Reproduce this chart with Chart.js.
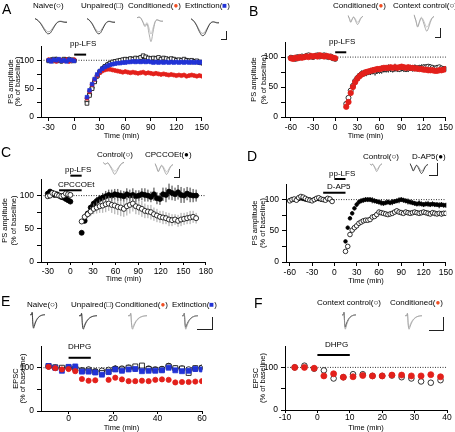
<!DOCTYPE html>
<html lang="en">
<head>
<meta charset="utf-8">
<script src="https://cdn.jsdelivr.net/npm/chart.js"></script>
<style>
  body { margin: 0; background: #fff; font-family: Arial, 'Liberation Sans', sans-serif; }
  #fig { position: relative; width: 455px; height: 432px; overflow: hidden; }
  #fig canvas { position: absolute; }
  .pn { position: absolute; font-size: 14px; line-height: 1; color: #000; will-change: transform; }
  .lbl { position: absolute; font-size: 8px; line-height: 1; white-space: nowrap; color: #000; will-change: transform; }
  .sb { position: absolute; border-right: 1px solid #222; border-bottom: 1px solid #222; }
  .red { color: #f04e23; }
  .blue { color: #2233d6; }
</style>
</head>
<body>
<div id="fig">
  <!-- panel letters -->
  <div class="pn" style="left:2px;top:2px">A</div>
  <div class="pn" style="left:249px;top:4px">B</div>
  <div class="pn" style="left:1px;top:145px">C</div>
  <div class="pn" style="left:247px;top:149px">D</div>
  <div class="pn" style="left:1px;top:294px">E</div>
  <div class="pn" style="left:254px;top:296px">F</div>

  <!-- A -->
  <div class="lbl" style="left:33px;top:2px">Naive(○)</div>
  <div class="lbl" style="left:81px;top:2px">Unpaired(□)</div>
  <div class="lbl" style="left:128px;top:2px">Conditioned(<span class="red">●</span>)</div>
  <div class="lbl" style="left:185px;top:2px">Extinction(<span class="blue">■</span>)</div>
  <div class="lbl" style="left:70px;top:40px">pp-LFS</div>
  <div class="sb" style="left:221px;top:31px;width:5px;height:8px"></div>

  <!-- B -->
  <div class="lbl" style="left:333px;top:2px">Conditioned(<span class="red">●</span>)</div>
  <div class="lbl" style="left:393px;top:2px">Context control(○)</div>
  <div class="lbl" style="left:329px;top:38px">pp-LFS</div>
  <div class="sb" style="left:435px;top:28px;width:5px;height:9px"></div>

  <!-- C -->
  <div class="lbl" style="left:97px;top:151px">Control(○)</div>
  <div class="lbl" style="left:145px;top:151px">CPCCOEt(●)</div>
  <div class="lbl" style="left:65px;top:166px">pp-LFS</div>
  <div class="lbl" style="left:58px;top:181px">CPCCOEt</div>
  <div class="sb" style="left:174px;top:169px;width:5px;height:8px"></div>

  <!-- D -->
  <div class="lbl" style="left:363px;top:153px">Control(○)</div>
  <div class="lbl" style="left:412px;top:153px">D-AP5(●)</div>
  <div class="lbl" style="left:329px;top:170px">pp-LFS</div>
  <div class="lbl" style="left:327px;top:183px">D-AP5</div>
  <div class="sb" style="left:429px;top:163px;width:8px;height:12px"></div>

  <!-- E -->
  <div class="lbl" style="left:27px;top:301px">Naive(○)</div>
  <div class="lbl" style="left:71px;top:301px">Unpaired(□)</div>
  <div class="lbl" style="left:115px;top:301px">Conditioned(<span class="red">●</span>)</div>
  <div class="lbl" style="left:172px;top:301px">Extinction(<span class="blue">■</span>)</div>
  <div class="lbl" style="left:68px;top:343px">DHPG</div>
  <div class="sb" style="left:197px;top:317px;width:15px;height:12px"></div>

  <!-- F -->
  <div class="lbl" style="left:317px;top:299px">Context control(○)</div>
  <div class="lbl" style="left:390px;top:299px">Conditioned(<span class="red">●</span>)</div>
  <div class="lbl" style="left:325px;top:341px">DHPG</div>
  <div class="sb" style="left:429px;top:317px;width:14px;height:13px"></div>
</div>

<script>
  // ---- A: PS amplitude, pp-LFS ----
  var tA = [-30,-27,-24,-21,-18,-15,-12,-9,-6,-3,0,15,18,21,24,27,30,33,36,39,42,45,48,51,54,57,60,63,66,69,72,75,78,81,84,87,90,93,96,99,102,105,108,111,114,117,120,123,126,129,132,135,138,141,144,147,150];
  var naiveA = [100,101,99,102,100,98,101,100,102,99,100, 28,40,52,63,72,80,85,89,92,94, 96,97,98,99,100,101,100,102,101,103, 102,104,106,104,102,101,103,102,101,100, 102,101,100,99,101,100,99,98,100,99, 98,97,98,97,96,95];
  var unpairedA = [99,100,102,101,99,100,102,101,100,101,99, 24,38,50,62,72,79,85,89,92,95, 97,98,99,100,101,102,101,103,102,104, 103,105,108,106,104,103,104,103,105,102, 104,103,101,103,102,100,101,100,102,100, 99,100,98,99,97,96];
  var condA = [101,99,100,98,101,100,99,101,98,100,101, 33,45,57,66,73,78,81,83,84,84, 83,82,81,80,79,80,79,78,79,78, 77,78,79,77,78,77,76,77,76,75, 76,75,74,75,74,73,74,73,74,72, 73,74,73,72,73,72];
  var extA = [100,98,101,100,102,99,100,98,101,100,99, 35,47,58,67,75,81,85,88,90,92, 93,94,95,95,96,96,97,97,98,97, 98,97,98,97,98,97,96,97,96,97, 96,97,96,97,96,97,96,97,96,97, 96,97,96,97,96,97];
  var lfsA = [0, 14];

  // ---- B ----
  var tB = [-60,-57,-54,-51,-48,-45,-42,-39,-36,-33,-30,-27,-24,-21,-18,-15,-12,-9,-6,-3,0,15,18,21,24,27,30,33,36,39,42,45,48,51,54,57,60,63,66,69,72,75,78,81,84,87,90,93,96,99,102,105,108,111,114,117,120,123,126,129,132,135,138,141,144,147,150];
  var condB = [98,97,99,98,100,99,100,101,100,102,101,102,101,103,102,101,102,101,100,99,98, 17,25,40,50,58,64,68,71,73,75, 76,77,78,79,80,80,81,82,82,82, 83,82,83,82,83,84,83,82,83,82, 82,81,81,80,80,79,79,78,78,78, 77,77,78,78,79,80];
  var ctxB = [99,98,97,100,99,101,100,102,103,101,100,102,103,101,102,103,101,100,101,98,97, 22,32,44,52,60,65,69,72,73,74, 75,76,77,76,78,78,79,80,80,81, 81,80,82,81,80,82,81,80,81,82, 81,82,81,82,82,83,83,84,83,82, 81,82,83,81,80,80];
  var errCtxB = [2,2,2,2,2,2,2,2,2,2,2,2,2,2,2,2,2,2,2,2,2, 2,3,3,4,4,5,5,6,6,6, 5,6,6,7,6,6,7,6,6,7, 6,6,7,6,5,6,6,5,6,5, 5,6,5,5,6,5,5,4,5,5, 4,5,4,4,5,4];
  var lfsB = [0, 15];

  // ---- C ----
  var tC = [-30,-27,-24,-21,-18,-15,-12,-9,-6,-3,0,15,19,23,27,31,35,39,43,47,51,55,59,63,67,71,75,79,83,87,91,95,99,103,107,111,115,119,123,127,131,135,139,143,147,151,155,159,163,167];
  var cpccoetC = [103,106,104,101,102,100,98,97,95,93,91, 44,62,73,82,88,92,95,97,99,101, 100,102,101,100,99,102,100,101,99,100, 102,101,100,98,102,96,95,102,101,106, 104,102,105,101,100,103,101,100,100];
  var controlC = [99,100,104,103,101,100,99,100,103,102,101, 61,68,72,76,80,82,84,85,87,88, 86,85,83,82,80,84,86,88,84,82, 80,77,76,75,72,70,68,67,66,64, 63,64,62,64,65,66,67,68,66];
  var errCpccoetC = [3,3,4,3,3,3,4,3,3,4,4, 3,4,4,5,5,6,6,7,8,8, 9,8,9,8,8,9,9,10,9,8, 9,10,9,8,10,9,9,10,11,12, 11,10,11,12,11,10,11,10,9];
  var errControlC = [3,3,3,4,3,3,3,4,3,3,3, 4,5,6,7,8,9,10,11,12,11, 12,13,12,13,12,14,13,12,12,11, 12,11,10,11,10,10,9,10,9,10, 9,8,9,10,9,9,10,9,8];
  var lfsC = [0, 15];
  var drugC = [-15, 15];

  // ---- D ----
  var tD = [-60,-57,-54,-51,-48,-45,-42,-39,-36,-33,-30,-27,-24,-21,-18,-15,-12,-9,-6,-3,15,18,21,24,27,30,33,36,39,42,45,48,51,54,57,60,63,66,69,72,75,78,81,84,87,90,93,96,99,102,105,108,111,114,117,120,123,126,129,132,135,138,141,144,147,150];
  var apvD = [99,100,100,100,101,102,101,100,100,100,99,100,101,101,100,100,100,101,100,98, 33,55,70,78,86,92,96,98,99,100, 100,100,99,98,97,96,95,94,95,96, 95,96,97,98,99,100,99,98,97,96, 95,94,93,94,93,92,93,93,92,93, 92,92,91,92,91,91];
  var controlD = [98,100,101,99,103,105,104,102,100,99,98,100,102,103,101,100,99,102,101,97, 17,25,44,51,55,58,62,64,66,67, 67,68,72,73,76,80,79,78,77,76, 77,78,80,82,80,79,78,80,79,78, 79,80,79,78,79,80,79,78,77,79, 78,77,78,77,78,78];
  var errApvD = [2,2,2,2,2,2,2,2,2,2,2,2,2,2,2,2,2,2,2,2, 2,3,3,3,3,4,4,4,4,4, 4,4,5,4,4,4,5,4,4,4, 4,5,4,4,5,4,4,4,5,4, 4,4,4,5,4,4,4,5,4,4, 4,4,5,4,4,4];
  var errControlD = [2,2,2,2,2,2,2,2,2,2,2,2,2,2,2,2,2,2,2,2, 2,2,3,3,3,3,3,3,3,3, 3,3,3,3,3,4,4,4,4,4, 4,4,4,4,4,4,4,4,4,4, 4,4,4,4,4,4,4,5,4,4, 5,4,4,5,4,4];
  var lfsD = [0, 15];
  var drugD = [-15, 15];

  // ---- E: EPSC, DHPG ----
  var tE = [-9,-6,-3,0,3,6,9,12,15,18,21,24,27,30,33,36,39,42,45,48,51,54,57,60];
  var naiveE = [103,100,98,100,100,94,96,92,93,95,98,98,100,98,97,98,96,97,104,98,98,96,98,100];
  var unpairedE = [104,101,100,101,98,93,93,90,88,91,97,96,100,103,105,97,95,96,103,99,98,88,99,99];
  var condE = [102,99,96,97,92,74,70,71,null,72,77,73,69,69,70,69,72,73,72,66,67,67,68,69];
  var extE = [104,100,93,102,103,91,91,89,84,90,96,93,96,97,92,93,93,94,100,94,92,93,97,96];
  var errNaiveE = [4,3,3,4,3,5,6,5,4,5,8,6,5,4,5,4,5,6,7,5,4,5,5,4];
  var errUnpairedE = [3,3,4,3,5,6,5,5,4,5,6,5,4,5,4,5,4,5,6,5,4,6,5,4];
  var errExtE = [5,3,4,4,4,5,5,6,5,5,6,5,5,4,4,5,5,4,5,4,4,5,6,5];
  var dhpgE = [0, 10];

  // ---- F ----
  var tF = [-7,-4,-1,2,5,8,11,14,17,20,23,26,29,32,35,38];
  var condF = [100,100,98,80,85,77,78,81,80,80,82,82,80,80,83,78];
  var ctxF = [100,104,97,93,74,77,84,84,80,80,81,77,74,67,64,70];
  var dhpgF = [0, 10];

  // axis ticks
  var yTicksPS = [0, 25, 50, 75, 100];
  var yLabelsPS = [0, 50, 100];
  var yTicksEPSC = [0, 50, 100];
  var yLabelsEPSC = [0, 100];
  var xTicksA = [-30, 0, 30, 60, 90, 120, 150];
  var xTicksB = [-60, -30, 0, 30, 60, 90, 120, 150];
  var xTicksC = [-30, 0, 30, 60, 90, 120, 150, 180];
  var xTicksE = [0, 20, 40, 60];
  var xTicksF = [-10, 0, 10, 20, 30, 40];

  // inset traces (arbitrary units)
  var psDip1 = [0.9,0.75,0.5,0.15,-0.3,-0.7,-0.95,-0.9,-0.55,-0.1,0.3,0.5,0.55,0.5,0.45,0.45];
  var psDip2 = [0.9,0.78,0.55,0.25,-0.15,-0.5,-0.7,-0.65,-0.35,0.0,0.35,0.55,0.6,0.55,0.5,0.5];
  var psSpike1 = [0.75,0.8,0.7,0.4,0.1,0.3,-0.4,-1.0,-0.3,0.4,0.6,0.55,0.5,0.5];
  var psSpike2 = [0.75,0.8,0.72,0.45,0.2,0.4,0.0,-0.45,0.0,0.45,0.6,0.55,0.5,0.5];
  var psW1 = [1,0.3,-0.5,0.1,0.6,0.2,-0.5,-1,-0.6,0.1,0.6,0.8];
  var psW2 = [1,0.35,-0.4,0.2,0.7,0.45,-0.1,-0.5,-0.25,0.3,0.65,0.8];
  var psV1 = [0.9,0.6,0.8,0.3,-0.4,-1,-0.5,0.2,0.7,0.9];
  var psV2 = [0.9,0.6,0.8,0.4,-0.1,-0.5,-0.2,0.3,0.7,0.85];
  var epsc1 = [0.75,0.75,0.75,1.05,-0.5,-1,-0.75,-0.45,-0.2,0,0.17,0.3,0.41,0.5,0.57,0.62,0.66,0.69,0.71,0.73,0.74,0.75];
  var epsc2 = [0.75,0.75,0.75,1.05,-0.3,-0.75,-0.5,-0.25,-0.05,0.12,0.26,0.37,0.46,0.53,0.59,0.63,0.67,0.7,0.72,0.73,0.74,0.75];

  var RED = '#e3201b', BLUE = '#2233d6';

  Chart.defaults.font.family = 'Arial, "Liberation Sans", sans-serif';
  Chart.defaults.color = '#000';
  Chart.defaults.animation = false;

  var fig = document.getElementById('fig');

  function makeCanvas(left, top, w, h) {
    var c = document.createElement('canvas');
    c.width = w; c.height = h;
    c.style.left = left + 'px'; c.style.top = top + 'px';
    c.style.width = w + 'px'; c.style.height = h + 'px';
    fig.appendChild(c);
    return c;
  }

  function pts(xs, ys) {
    return xs.map(function(x, i) { return { x: x, y: ys[i] }; });
  }

  // vertical error bars, drawn just under each dataset's markers
  var errBars = {
    id: 'errBars',
    beforeDatasetDraw: function(chart, args) {
      var ds = chart.data.datasets[args.index];
      if (!ds.errs) return;
      var ctx = chart.ctx, ys = chart.scales.y;
      ctx.save();
      ctx.strokeStyle = ds.errColor || ds.borderColor;
      ctx.lineWidth = 0.8;
      args.meta.data.forEach(function(el, i) {
        var v = ds.data[i].y, e = ds.errs[i];
        if (v == null || e == null) return;
        ctx.beginPath();
        ctx.moveTo(el.x, ys.getPixelForValue(v - e));
        ctx.lineTo(el.x, ys.getPixelForValue(v + e));
        ctx.stroke();
      });
      ctx.restore();
    }
  };

  function series(xs, ys, style, r, fill, stroke, extra) {
    var ds = {
      data: pts(xs, ys), pointStyle: style, pointRadius: r,
      backgroundColor: fill, borderColor: stroke, pointBorderWidth: 0.8
    };
    return Object.assign(ds, extra || {});
  }

  function hline(x0, x1, y, dash, width) {
    return {
      data: [{ x: x0, y: y }, { x: x1, y: y }], showLine: true, pointRadius: 0,
      borderColor: '#000', borderWidth: width, borderDash: dash, clip: false
    };
  }

  function panel(o) {
    var c = makeCanvas(o.left, o.top, o.w, o.h);
    return new Chart(c, {
      type: 'scatter',
      data: { datasets: o.datasets },
      options: {
        responsive: false,
        events: [],
        layout: { padding: { top: o.pt, right: o.pr, left: 0, bottom: 0 } },
        plugins: { legend: { display: false }, tooltip: { enabled: false } },
        scales: {
          x: {
            type: 'linear', min: o.xMin, max: o.xMax,
            afterBuildTicks: function(s) { s.ticks = o.xTicks.map(function(v) { return { value: v }; }); },
            afterFit: function(s) { s.height = o.hx; },
            grid: { drawOnChartArea: false, color: '#000', tickLength: o.tl, tickWidth: 1 },
            border: { color: '#000', width: 1 },
            ticks: { color: '#000', padding: o.tp, maxRotation: 0, autoSkip: false, font: { size: 8.5 } },
            title: { display: true, text: 'Time (min)', color: '#000', font: { size: 7.5, lineHeight: 1 }, padding: 0 }
          },
          y: {
            type: 'linear', min: 0, max: o.yMax,
            afterBuildTicks: function(s) { s.ticks = o.yTicks.map(function(v) { return { value: v }; }); },
            afterFit: function(s) { s.width = o.wy; },
            grid: { drawOnChartArea: false, color: '#000', tickLength: 4, tickWidth: 1 },
            border: { color: '#000', width: 1 },
            ticks: {
              color: '#000', padding: 3, autoSkip: false, font: { size: 8.5 },
              callback: function(v) { return o.yLabels.indexOf(v) >= 0 ? v : ''; }
            },
            title: {
              display: true, text: o.yTitle, color: '#000',
              font: { size: 7.5, lineHeight: o.lh }, padding: { top: o.yp, bottom: 0 }
            }
          }
        }
      },
      plugins: [errBars]
    });
  }

  function trace(left, top, w, h, lines) {
    var c = makeCanvas(left, top, w, h);
    new Chart(c, {
      type: 'line',
      data: {
        labels: lines[0].data.map(function(_, i) { return i; }),
        datasets: lines.map(function(l) {
          return { data: l.data, borderColor: l.color, borderWidth: 0.8, pointRadius: 0,
                   cubicInterpolationMode: 'monotone', fill: false };
        })
      },
      options: {
        responsive: false, events: [],
        layout: { padding: 1 },
        plugins: { legend: { display: false }, tooltip: { enabled: false } },
        scales: { x: { display: false }, y: { display: false, min: -1.1, max: 1.1 } }
      }
    });
  }

  var psTitle = ['PS amplitude', '(% of baseline)'];
  var epscTitle = ['EPSC', '(% of baseline)'];

  // A
  panel({
    left: 0, top: 38, w: 211, h: 102, pt: 4, pr: 8, wy: 41, hx: 23, tl: 4, tp: 2,
    xMin: -39, xMax: 150, xTicks: xTicksA, yMax: 125, yTicks: yTicksPS, yLabels: yLabelsPS,
    yTitle: psTitle, lh: 0.95, yp: 6.9,
    datasets: [
      series(tA, extA, 'rect', 2.5, BLUE, BLUE),
      series(tA, condA, 'circle', 2.0, RED, RED),
      series(tA, unpairedA, 'rect', 2.6, '#fff', '#000'),
      series(tA, naiveA, 'circle', 2.1, '#fff', '#000'),
      hline(lfsA[0], lfsA[1], 110, [], 2),
      hline(-39, 150, 100, [1, 1.5], 0.8)
    ]
  });

  // B
  panel({
    left: 243, top: 34, w: 212, h: 106, pt: 4, pr: 7, wy: 42, hx: 23, tl: 4, tp: 2,
    xMin: -68, xMax: 150, xTicks: xTicksB, yMax: 125, yTicks: yTicksPS, yLabels: yLabelsPS,
    yTitle: psTitle, lh: 1.3, yp: 6.1,
    datasets: [
      series(tB, condB, 'circle', 2.7, RED, RED),
      series(tB, ctxB, 'circle', 2.5, '#fff', '#000', { errs: errCtxB, errColor: '#000' }),
      hline(lfsB[0], lfsB[1], 108, [], 2),
      hline(-68, 150, 100, [1, 1.5], 0.8)
    ]
  });

  // C
  panel({
    left: 0, top: 168, w: 215, h: 115, pt: 11, pr: 8, wy: 41, hx: 21, tl: 3, tp: 2,
    xMin: -39, xMax: 180, xTicks: xTicksC, yMax: 125, yTicks: yTicksPS, yLabels: yLabelsPS,
    yTitle: psTitle, lh: 1.25, yp: 0.3,
    datasets: [
      series(tC, controlC, 'circle', 2.5, '#fff', '#000', { errs: errControlC, errColor: '#8a8a8a' }),
      series(tC, cpccoetC, 'circle', 2.5, '#000', '#000', { errs: errCpccoetC, errColor: '#000' }),
      hline(lfsC[0], lfsC[1], 130, [], 2),
      hline(drugC[0], drugC[1], 108, [], 2),
      hline(-39, 180, 100, [1, 1.5], 0.8)
    ]
  });

  // D
  panel({
    left: 244, top: 172, w: 211, h: 113, pt: 12, pr: 7, wy: 42, hx: 23, tl: 4, tp: 2,
    xMin: -65, xMax: 150, xTicks: xTicksB, yMax: 125, yTicks: yTicksPS, yLabels: yLabelsPS,
    yTitle: psTitle, lh: 1.04, yp: 6.8,
    datasets: [
      series(tD, controlD, 'circle', 2.3, '#fff', '#000', { errs: errControlD, errColor: '#8a8a8a' }),
      series(tD, apvD, 'circle', 1.8, '#000', '#000', { errs: errApvD, errColor: '#000' }),
      hline(lfsD[0], lfsD[1], 133, [], 2),
      hline(drugD[0], drugD[1], 111, [], 2),
      hline(-65, 150, 100, [1, 1.5], 0.8)
    ]
  });

  // E
  panel({
    left: 0, top: 338, w: 210, h: 94, pt: 4, pr: 8, wy: 41, hx: 21, tl: 3, tp: 0,
    xMin: -12.4, xMax: 60, xTicks: xTicksE, yMax: 150, yTicks: yTicksEPSC, yLabels: yLabelsEPSC,
    yTitle: epscTitle, lh: 0.87, yp: 12.75,
    datasets: [
      series(tE, condE, 'circle', 2.6, RED, RED),
      series(tE, extE, 'rect', 3.5, BLUE, BLUE, { errs: errExtE, errColor: BLUE }),
      series(tE, unpairedE, 'rect', 3.5, '#fff', '#000', { errs: errUnpairedE, errColor: '#000' }),
      series(tE, naiveE, 'circle', 2.8, '#fff', '#000', { errs: errNaiveE, errColor: '#000' }),
      hline(dhpgE[0], dhpgE[1], 123, [], 2),
      hline(-12.4, 60, 100, [1, 1.5], 0.8)
    ]
  });

  // F
  panel({
    left: 243, top: 338, w: 212, h: 94, pt: 4, pr: 8, wy: 42, hx: 22, tl: 3, tp: 0,
    xMin: -10, xMax: 40, xTicks: xTicksF, yMax: 150, yTicks: yTicksEPSC, yLabels: yLabelsEPSC,
    yTitle: epscTitle, lh: 0.93, yp: 9,
    datasets: [
      series(tF, condF, 'circle', 3, RED, RED),
      series(tF, ctxF, 'circle', 2.8, '#fff', '#000'),
      hline(dhpgF[0], dhpgF[1], 129, [], 2),
      hline(-10, 40, 100, [1, 1.5], 0.8)
    ]
  });

  // inset traces
  var DK = '#222', GR = '#999';
  trace(34, 16, 34, 20, [{ data: psDip1, color: DK }, { data: psDip2, color: GR }]);
  trace(86, 16, 30, 20, [{ data: psDip1, color: DK }, { data: psDip2, color: GR }]);
  trace(136, 12, 28, 32, [{ data: psSpike1, color: GR }, { data: psSpike2, color: '#bbb' }]);
  trace(190, 16, 30, 22, [{ data: psDip1, color: DK }, { data: psDip2, color: GR }]);

  trace(347, 14, 17, 12, [{ data: psW1, color: GR }, { data: psW2, color: '#bbb' }]);
  trace(413, 13, 22, 20, [{ data: psW1, color: GR }, { data: psW2, color: '#bbb' }]);

  trace(102, 160, 23, 16, [{ data: psV1, color: GR }, { data: psV2, color: '#bbb' }]);
  trace(154, 162, 20, 14, [{ data: psW1, color: GR }, { data: psW2, color: '#bbb' }]);

  trace(369, 162, 14, 11, [{ data: psV1, color: GR }, { data: psV2, color: '#bbb' }]);
  trace(409, 162, 20, 13, [{ data: psW1, color: DK }, { data: psW2, color: GR }]);

  trace(29, 311, 17, 19, [{ data: epsc1, color: DK }, { data: epsc2, color: GR }]);
  trace(78, 312, 20, 19, [{ data: epsc1, color: DK }, { data: epsc2, color: GR }]);
  trace(127, 312, 21, 19, [{ data: epsc1, color: GR }, { data: epsc2, color: '#bbb' }]);
  trace(181, 312, 18, 19, [{ data: epsc1, color: GR }, { data: epsc2, color: DK }]);

  trace(341, 311, 16, 20, [{ data: epsc1, color: GR }, { data: epsc2, color: DK }]);
  trace(404, 312, 19, 19, [{ data: epsc1, color: GR }, { data: epsc2, color: '#bbb' }]);
</script>
</body>
</html>
